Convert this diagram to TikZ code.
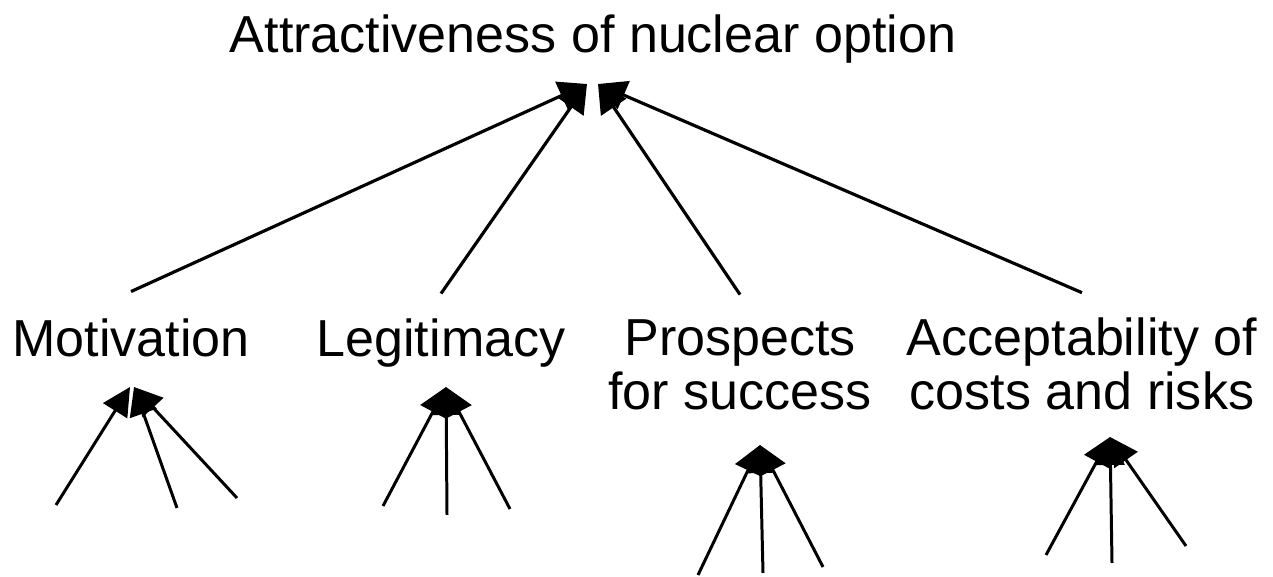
\documentclass[tikz,border=0pt]{standalone}
\usepackage{fontspec}
\setmainfont{Liberation Sans}
\usetikzlibrary{arrows.meta}

\tikzset{
	lbl/.style={font=\fontsize{14.8pt}{15.6pt}\selectfont, align=center, inner sep=0pt, anchor=base},
	link/.style={line width=0.9pt, -{Triangle[length=0.28cm,width=0.3cm]}},
	sub/.style={line width=0.85pt, -{Triangle[length=0.28cm,width=0.28cm]}}
}

\begin{document}
\begin{tikzpicture}[x=0.01cm, y=-0.01cm]
		\useasboundingbox (0,0) rectangle (1273,577);
		
		\node[lbl] (attr) at (593,53) {Attractiveness of nuclear option};
		\node[lbl] (mot) at (131,357) {Motivation};
		\node[lbl] (leg) at (441,357) {Legitimacy};
		\node[lbl] (pros) at (740,410) {Prospects\\for success};
		\node[lbl] (acc) at (1082,410) {Acceptability of\\costs and risks};
		
		\coordinate (attr-l) at ([xshift=-0.06cm,yshift=-0.31cm]attr.base);
		\coordinate (attr-r) at ([xshift=0.05cm,yshift=-0.31cm]attr.base);
		
		\draw[link] ([yshift=0.27cm]mot.north) -- (attr-l);
		\draw[link] ([yshift=0.25cm]leg.north) -- (attr-l);
		\draw[link] ([yshift=0.24cm]pros.north) -- (attr-r);
		\draw[link] ([yshift=0.24cm]acc.north) -- (attr-r);
		
		% lower level
		\coordinate (mot-l) at ([xshift=-0.01cm,yshift=-0.3cm]mot.base);
		\coordinate (mot-r) at ([xshift=0.03cm,yshift=-0.3cm]mot.base);
		\coordinate (leg-in) at ([xshift=0.05cm,yshift=-0.3cm]leg.base);
		\coordinate (pros-in) at ([xshift=0.2cm,yshift=-0.35cm]pros.base);
		\coordinate (acc-in) at ([xshift=0.28cm,yshift=-0.27cm]acc.base);
		
		\coordinate (m1) at (56,505);
		\coordinate (m2) at (177,508);
		\coordinate (m3) at (237,498);
		\coordinate (l1) at (383,506);
		\coordinate (l2) at (447,515);
		\coordinate (l3) at (510,509);
		\coordinate (p1) at (698,575);
		\coordinate (p2) at (763,573);
		\coordinate (p3) at (823,567);
		\coordinate (a1) at (1046,555);
		\coordinate (a2) at (1112,563);
		\coordinate (a3) at (1186,546);
		
		\draw[sub] (m1) -- (mot-l);
		\draw[sub] (m2) -- (mot-r);
		\draw[sub] (m3) -- (mot-r);
		
		\draw[sub] (l1) -- (leg-in);
		\draw[sub] (l2) -- (leg-in);
		\draw[sub] (l3) -- (leg-in);
		
		\draw[sub] (p1) -- (pros-in);
		\draw[sub] (p2) -- (pros-in);
		\draw[sub] (p3) -- (pros-in);
		
		\draw[sub] (a1) -- (acc-in);
		\draw[sub] (a2) -- (acc-in);
		\draw[sub] (a3) -- (acc-in);
	\end{tikzpicture}
\end{document}
